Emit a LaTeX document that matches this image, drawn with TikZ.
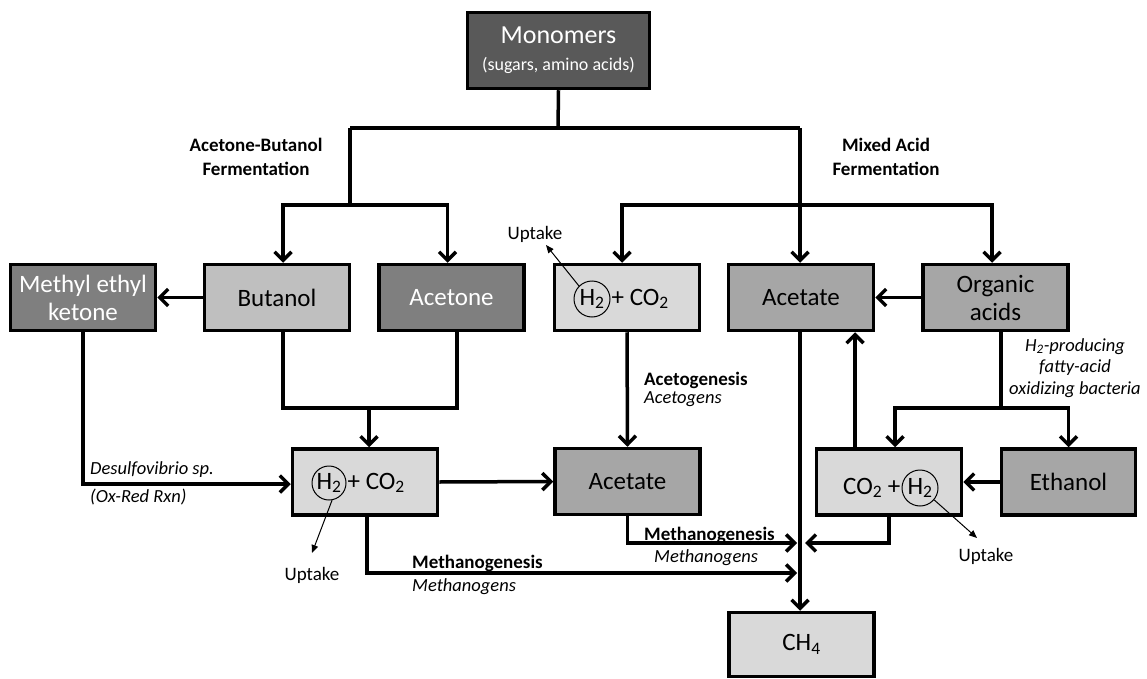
\documentclass[tikz,border=0pt]{standalone}
\usepackage{fontspec}
\setmainfont{Carlito}
\usetikzlibrary{arrows.meta}
\definecolor{gA}{HTML}{595959}
\definecolor{gB}{HTML}{7F7F7F}
\definecolor{gC}{HTML}{BFBFBF}
\definecolor{gD}{HTML}{D9D9D9}
\definecolor{gE}{HTML}{A6A6A6}
\begin{document}
\begin{tikzpicture}[x=1pt,y=-1pt,
  box/.style={draw, line width=3.5pt, minimum width=145pt, minimum height=66pt, inner sep=0pt, align=center, font=\fontsize{25}{28}\selectfont},
  arr/.style={line width=3.5pt, -{Straight Barb[length=8.5pt,width=17pt]}},
  ln/.style={line width=3.5pt},
  thinarr/.style={line width=1pt, -{Triangle[length=8pt,width=6.5pt]}},
  ring/.style={draw, circle, line width=1pt, minimum size=36pt, inner sep=0pt, font=\fontsize{25}{28}\selectfont},
  boxtxt/.style={inner sep=0pt, font=\fontsize{25}{28}\selectfont},
  small/.style={inner sep=0pt, font=\fontsize{19}{22}\selectfont},
  bold/.style={inner sep=0pt, font=\fontsize{19}{23.5}\bfseries\selectfont, align=center},
  ital/.style={inner sep=0pt, font=\fontsize{18.5}{21.5}\itshape\selectfont, align=center}
]
\useasboundingbox[fill=white] (0,0) rectangle (1147,679);

% boxes
\node[box, fill=gA, text=white, minimum width=182pt, minimum height=76pt] (mono) at (558.5,50.5) {\fontsize{26}{28}\selectfont Monomers\\[-1pt]{\fontsize{18}{20}\selectfont (sugars, amino acids)}};
\node[box, fill=gB, text=white] (mek) at (83,297.5) {Methyl ethyl\\ketone};
\node[box, fill=gC] (but) at (277,297.5) {Butanol};
\node[box, fill=gB, text=white] (acet) at (451.5,297.5) {Acetone};
\node[box, fill=gD] (h2top) at (627,297.5) {};
\node[box, fill=gE] (acetop) at (801,297.5) {Acetate};
\node[box, fill=gE] (org) at (995.5,297.5) {Organic\\acids};
\node[box, fill=gD] (h2bot) at (365,482) {};
\node[box, fill=gE] (acemid) at (627.5,481.5) {Acetate};
\node[box, fill=gD] (co2h2) at (889,482) {};
\node[box, fill=gE, minimum width=134pt] (eth) at (1068.5,482) {Ethanol};
\node[box, fill=gD, minimum height=64pt] (ch4) at (801.5,644.5) {CH\textsubscript{4}};

% circled H2 and text in boxes
\node[ring] (c1) at (592,299) {H\textsubscript{2}};
\node[boxtxt, anchor=west] (t1) at ([xshift=1pt]c1.east) {+ CO\textsubscript{2}};
\node[ring, minimum size=34pt] (c2) at (329,483) {H\textsubscript{2}};
\node[boxtxt, anchor=west] (t2) at ([xshift=1pt]c2.east) {+ CO\textsubscript{2}};
\node[ring] (c3) at (920,488) {H\textsubscript{2}};
\node[boxtxt, anchor=east] (t3) at ([xshift=-1pt]c3.west) {CO\textsubscript{2} +};

% uptake
\node[small] (u1) at (535,234) {Uptake};
\node[small] (u2) at (312,575) {Uptake};
\node[small] (u3) at (986,556) {Uptake};
\coordinate (u1t) at (546,245);
\coordinate (u2t) at (312,553);
\coordinate (u3t) at (977,538);
\draw[thinarr] (c1.135) -- (u1t);
\draw[thinarr] (c2.-80) -- (u2t);
\draw[thinarr] (c3.-40) -- (u3t);

% junction coordinates
\coordinate (j0) at (558,128);
\coordinate (jl) at (350,128);
\coordinate (jr) at (800,128);
\coordinate (jl2) at (350,205);
\coordinate (jr2) at (800,205);
\coordinate (jm) at (369,408);
\coordinate (jo) at (1001,408);
\coordinate (m1) at (797,543);
\coordinate (m2) at (797,573);
\coordinate (m3) at (805,543);

% top tree
\draw[ln] (mono.south) -- (j0);
\draw[ln] (jl) -- (jr);
\draw[ln] (jl) -- (jl2);
\draw[arr] (jl2) -| ([xshift=6pt]but.north);
\draw[arr] (jl2) -| ([xshift=-4pt]acet.north);
\draw[arr] (jr) -- ([xshift=-1pt]acetop.north);
\draw[arr] (jr2) -| ([xshift=-5pt]h2top.north);
\draw[arr] (jr2) -| ([xshift=-3.5pt]org.north);

% middle row
\draw[arr] (but.west) -- (mek.east);
\draw[arr] (org.west) -- (acetop.east);
\draw[ln] ([xshift=6pt]but.south) |- (jm);
\draw[ln] ([xshift=5.5pt]acet.south) |- (jm);
\draw[arr] (jm) -- ([xshift=4pt]h2bot.north);
\draw[arr] (mek.south) |- ([yshift=-2pt]h2bot.west);
\draw[arr] (h2bot.east) -- (acemid.west);
\draw[arr] (h2top.south) -- (acemid.north);
\draw[arr] ([xshift=-1pt]acetop.south) -- ([xshift=-1.5pt]ch4.north);
\draw[arr] ([xshift=-34pt]co2h2.north) -- ([xshift=54pt]acetop.south);
\draw[ln] ([xshift=5.5pt]org.south) -- (jo);
\draw[arr] (jo) -| ([xshift=6pt]co2h2.north);
\draw[arr] (jo) -| (eth.north);
\draw[arr] (eth.west) -- (co2h2.east);

% methanogenesis
\draw[arr] (acemid.south) |- (m1);
\draw[arr] ([xshift=2pt]h2bot.south) |- (m2);
\draw[arr] (co2h2.south) |- (m3);

% labels
\node[bold] (lab1) at (256,157) {Acetone-Butanol\\Fermentation};
\node[bold] (lab2) at (886,157) {Mixed Acid\\Fermentation};
\node[ital, anchor=west] (desu) at (90,470) {Desulfovibrio sp.};
\node[ital, anchor=west] (oxred) at (90,497) {(Ox-Red Rxn)};
\node[bold, anchor=west] (acg) at (644,380) {Acetogenesis};
\node[ital, anchor=west] (acgs) at (644,399) {Acetogens};
\node[bold, anchor=west] (mg1) at (644,535) {Methanogenesis};
\node[ital, anchor=west] (mgs1) at (654,558) {Methanogens};
\node[bold, anchor=west] (mg2) at (412,563) {Methanogenesis};
\node[ital, anchor=west] (mgs2) at (412,587) {Methanogens};
\node[ital] (fa) at (1075,368) {H\textsubscript{2}-producing\\fatty-acid\\oxidizing bacteria};
\end{tikzpicture}
\end{document}
